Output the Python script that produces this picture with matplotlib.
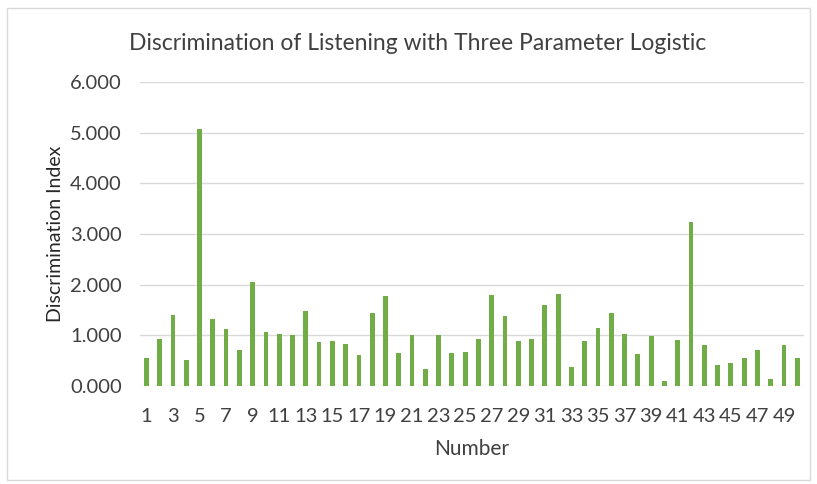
import numpy as np
import matplotlib.pyplot as plt
from matplotlib.patches import Rectangle

# Item numbers and discrimination index values
numbers = list(range(1, 51))
discrimination = [
    0.55, 0.92, 1.40, 0.51, 5.07, 1.32, 1.13, 0.72, 2.05, 1.07,
    1.03, 1.01, 1.48, 0.86, 0.88, 0.82, 0.61, 1.44, 1.77, 0.65,
    1.01, 0.34, 1.01, 0.65, 0.67, 0.92, 1.79, 1.39, 0.88, 0.92,
    1.59, 1.81, 0.38, 0.88, 1.15, 1.44, 1.03, 0.63, 0.99, 0.09,
    0.90, 3.24, 0.80, 0.42, 0.45, 0.55, 0.71, 0.13, 0.80, 0.55,
]
y_ticks = [0, 1, 2, 3, 4, 5, 6]

title = "Discrimination of Listening with Three Parameter Logistic"
x_label = "Number"
y_label = "Discrimination Index"

plt.rcParams['font.family'] = ['Lato', 'DejaVu Sans']
text_color = '#404040'

fig = plt.figure(figsize=(8.17, 4.84), dpi=100)
ax = fig.add_axes([0.171, 0.2025, 0.813, 0.628])

# Chart area border
fig.patches.append(Rectangle((0.008, 0.008), 0.984, 0.976, transform=fig.transFigure,
                             fill=False, edgecolor='#D9D9D9', linewidth=1.0))

x = np.arange(len(numbers))
ax.bar(x, discrimination, width=0.36, color='#70AD47', zorder=3)

ax.set_xlim(-0.5, len(numbers) - 0.5)
ax.set_ylim(0, 6)
ax.set_yticks(y_ticks)
ax.set_yticklabels([f"{v:.3f}" for v in y_ticks], fontsize=14.5, color=text_color)
ax.set_xticks(x[::2])
ax.set_xticklabels([str(n) for n in numbers[::2]], fontsize=14.5, color=text_color)
ax.tick_params(axis='both', length=0)
ax.tick_params(axis='x', pad=16)
ax.tick_params(axis='y', pad=13)

ax.grid(axis='y', color='#D9D9D9', linewidth=1.0, zorder=0)
for side in ['top', 'right', 'left', 'bottom']:
    ax.spines[side].set_visible(False)

ax.set_xlabel(x_label, fontsize=15, color=text_color, labelpad=10)
ax.set_ylabel(y_label, fontsize=14, color='#262626', labelpad=4)
fig.text(0.511, 0.91, title, ha='center', va='center', fontsize=16.5, color=text_color)

plt.savefig('out.png', dpi=100)
